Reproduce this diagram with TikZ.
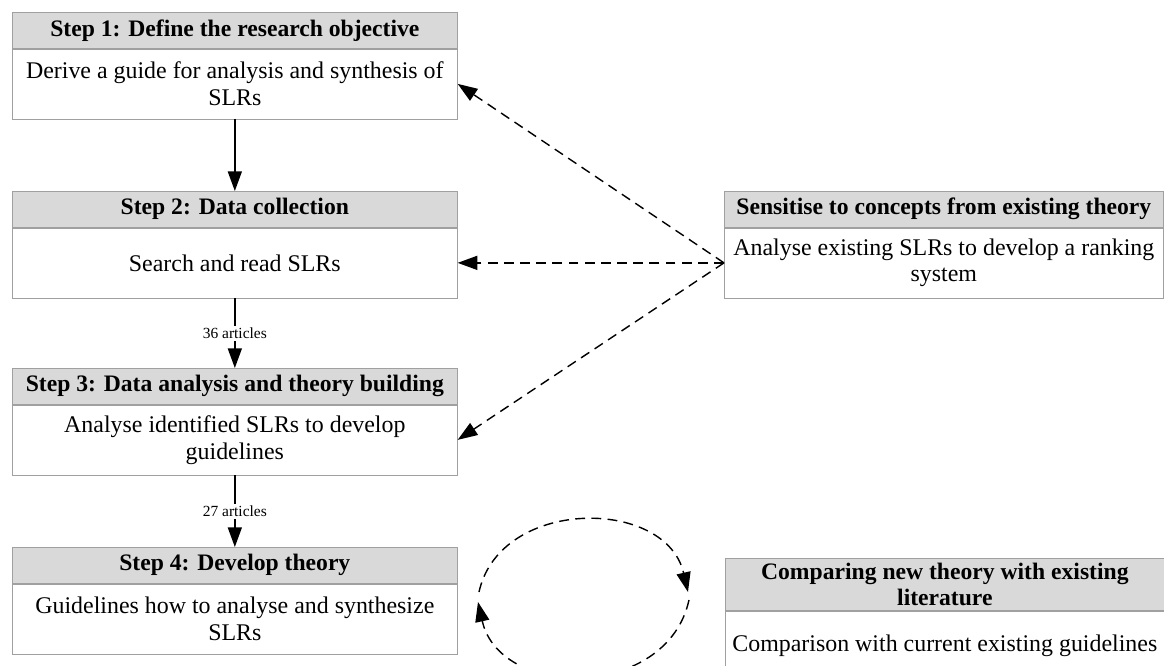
\documentclass[tikz,border=0pt]{standalone}
\usepackage{fontspec}
\setmainfont{Liberation Serif}
\usetikzlibrary{positioning, arrows.meta}
\definecolor{headgray}{HTML}{D9D9D9}
\definecolor{framegray}{HTML}{A0A0A0}

\begin{document}
\begin{tikzpicture}[x=0.025cm, y=-0.025cm,
    head/.style={draw=framegray, fill=headgray, font=\fontsize{16.8}{18.5}\selectfont\bfseries, minimum height=0.9cm, inner sep=0pt, align=center},
    body/.style={draw=framegray, fill=white, font=\fontsize{17}{19}\selectfont, minimum height=1.75cm, inner sep=0pt, align=center},
    flow/.style={-{Triangle[length=14pt, width=10pt]}, line width=1pt},
    link/.style={flow, dash pattern=on 7pt off 4.5pt},
    count/.style={fill=white, font=\fontsize{11}{12}\selectfont, inner sep=1.5pt}]

    \clip (0,0) rectangle (1164,665);

    \node[head, minimum width=11.125cm, anchor=north west] (s1h) at (12,12) {Step 1: Define the research objective};
    \node[body, minimum width=11.125cm, below=0pt of s1h] (s1b) {Derive a guide for analysis and synthesis of\\SLRs};

    \node[head, minimum width=11.125cm, anchor=north west] (s2h) at (12,191) {Step 2: Data collection};
    \node[body, minimum width=11.125cm, below=0pt of s2h] (s2b) {Search and read SLRs};

    \node[head, minimum width=11.125cm, anchor=north west] (s3h) at (12,368) {Step 3: Data analysis and theory building};
    \node[body, minimum width=11.125cm, below=0pt of s3h] (s3b) {Analyse identified SLRs to develop\\guidelines};

    \node[head, minimum width=11.125cm, anchor=north west] (s4h) at (12,547) {Step 4: Develop theory};
    \node[body, minimum width=11.125cm, below=0pt of s4h] (s4b) {Guidelines how to analyse and synthesize\\SLRs};

    \node[head, minimum width=10.975cm, anchor=north west] (r1h) at (724,191) {Sensitise to concepts from existing theory};
    \node[body, minimum width=10.975cm, below=0pt of r1h] (r1b) {Analyse existing SLRs to develop a ranking\\system};

    \node[head, minimum width=10.975cm, minimum height=1.3cm, anchor=north west] (r2h) at (725,558) {Comparing new theory with existing\\literature};
    \node[body, minimum width=10.975cm, below=0pt of r2h] (r2b) {Comparison with current existing guidelines};

    \draw[flow] (s1b) -- (s2h);
    \draw[flow] (s2b) -- node[count] {36 articles} (s3h);
    \draw[flow] (s3b) -- node[count] {27 articles} (s4h);

    \draw[link] (r1b.west) -- (s1b.east);
    \draw[link] (r1b.west) -- (s2b.east);
    \draw[link] (r1b.west) -- (s3b.east);

    \coordinate (lensLt) at (479,592);
    \coordinate (lensRt) at (688,592);
    \coordinate (lensRb) at (689,600);
    \coordinate (lensLb) at (478,602);
    \draw[link] (lensLt) .. controls (500,497) and (666,497) .. (lensRt);
    \draw[link] (lensRb) .. controls (667,700) and (500,700) .. (lensLb);
\end{tikzpicture}
\end{document}
